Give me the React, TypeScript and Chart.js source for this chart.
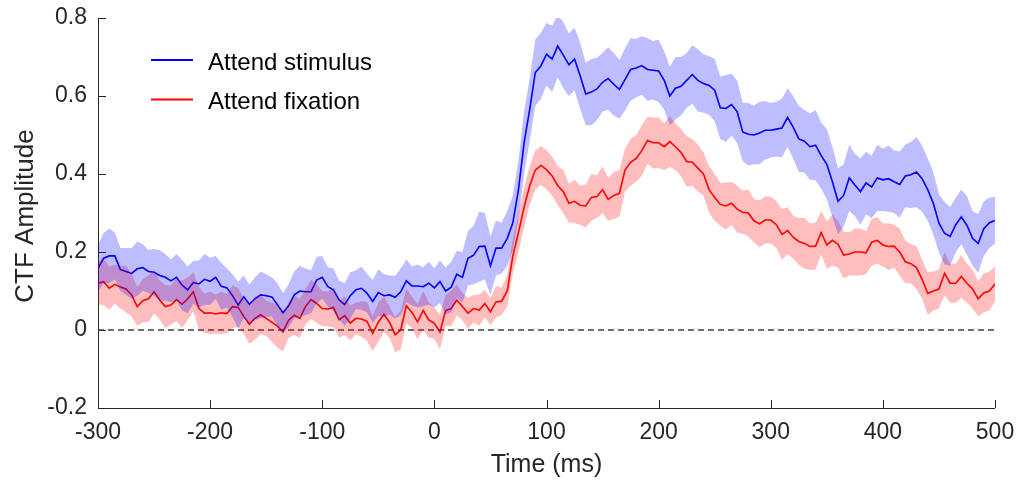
import React, { useEffect, useRef } from "react";
import { Chart, registerables } from "chart.js";

Chart.register(...registerables);

// Time axis: -300 .. 500 ms in 5 ms steps (161 samples)
const T_START = -300;
const T_STEP = 5;

const attendStimulus: number[] = [
  0.158, 0.184, 0.19, 0.19, 0.155, 0.15, 0.145, 0.157, 0.16, 0.15, 0.148, 0.14, 0.135, 0.126, 0.135, 0.115, 0.103, 0.122, 0.118, 0.13, 0.125,
  0.135, 0.112, 0.108, 0.088, 0.064, 0.085, 0.066, 0.08, 0.09, 0.088, 0.085, 0.065, 0.044, 0.062, 0.09, 0.1, 0.098, 0.098, 0.128, 0.135,
  0.111, 0.103, 0.077, 0.065, 0.088, 0.103, 0.107, 0.094, 0.073, 0.096, 0.088, 0.09, 0.084, 0.098, 0.126, 0.113, 0.113, 0.111, 0.12, 0.108,
  0.124, 0.1, 0.11, 0.143, 0.135, 0.184, 0.192, 0.214, 0.215, 0.165, 0.21, 0.21, 0.235, 0.275, 0.36, 0.48, 0.565, 0.66, 0.677, 0.707,
  0.695, 0.728, 0.705, 0.68, 0.695, 0.652, 0.605, 0.61, 0.618, 0.635, 0.645, 0.63, 0.617, 0.642, 0.668, 0.672, 0.678, 0.668, 0.666, 0.664,
  0.64, 0.6, 0.62, 0.625, 0.64, 0.655, 0.64, 0.632, 0.627, 0.615, 0.57, 0.568, 0.578, 0.56, 0.508, 0.502, 0.5, 0.505, 0.512, 0.512,
  0.515, 0.518, 0.545, 0.52, 0.49, 0.484, 0.47, 0.474, 0.447, 0.425, 0.38, 0.33, 0.345, 0.39, 0.372, 0.355, 0.377, 0.367, 0.39, 0.385,
  0.388, 0.38, 0.373, 0.395, 0.398, 0.405, 0.388, 0.36, 0.325, 0.274, 0.248, 0.24, 0.27, 0.29, 0.268, 0.235, 0.222, 0.26, 0.275, 0.281,
];

const attendStimulusErr: number[] = [
  0.06, 0.065, 0.07, 0.06, 0.055, 0.06, 0.065, 0.07, 0.06, 0.055, 0.06, 0.065, 0.06, 0.055, 0.06, 0.065, 0.06, 0.055, 0.06, 0.065, 0.06,
  0.055, 0.06, 0.05, 0.055, 0.06, 0.055, 0.05, 0.055, 0.06, 0.055, 0.05, 0.055, 0.05, 0.055, 0.06, 0.065, 0.06, 0.055, 0.06, 0.055,
  0.05, 0.055, 0.05, 0.055, 0.06, 0.05, 0.055, 0.05, 0.055, 0.06, 0.055, 0.05, 0.055, 0.06, 0.055, 0.05, 0.055, 0.05, 0.055, 0.05,
  0.055, 0.06, 0.065, 0.06, 0.065, 0.07, 0.075, 0.09, 0.085, 0.075, 0.07, 0.065, 0.07, 0.07, 0.075, 0.08, 0.08, 0.085, 0.085, 0.08,
  0.085, 0.08, 0.085, 0.08, 0.08, 0.085, 0.08, 0.085, 0.08, 0.075, 0.08, 0.08, 0.075, 0.08, 0.08, 0.075, 0.075, 0.08, 0.075, 0.08,
  0.075, 0.075, 0.08, 0.075, 0.07, 0.075, 0.08, 0.075, 0.075, 0.08, 0.08, 0.085, 0.08, 0.08, 0.075, 0.08, 0.075, 0.08, 0.075, 0.07,
  0.07, 0.075, 0.075, 0.08, 0.085, 0.08, 0.085, 0.09, 0.085, 0.09, 0.09, 0.085, 0.08, 0.085, 0.08, 0.085, 0.08, 0.08, 0.085, 0.08,
  0.085, 0.08, 0.085, 0.08, 0.085, 0.09, 0.085, 0.08, 0.08, 0.075, 0.08, 0.075, 0.07, 0.07, 0.075, 0.07, 0.075, 0.07, 0.065, 0.06,
];

const attendFixation: number[] = [
  0.12, 0.124, 0.107, 0.117, 0.11, 0.105, 0.09, 0.06, 0.075, 0.08, 0.098, 0.077, 0.06, 0.064, 0.078, 0.066, 0.08, 0.098, 0.055, 0.043, 0.044,
  0.041, 0.044, 0.042, 0.06, 0.058, 0.035, 0.015, 0.03, 0.039, 0.03, 0.02, 0.01, -0.005, 0.025, 0.038, 0.03, 0.06, 0.078, 0.068, 0.055,
  0.054, 0.058, 0.026, 0.037, 0.018, 0.03, 0.028, 0.022, -0.009, 0.02, 0.04, 0.02, -0.012, 0.0, 0.062, 0.045, 0.021, 0.05, 0.026, 0.017,
  -0.005, 0.05, 0.055, 0.077, 0.06, 0.043, 0.055, 0.051, 0.068, 0.047, 0.072, 0.074, 0.1, 0.19, 0.25, 0.315, 0.37, 0.41, 0.422, 0.411,
  0.395, 0.37, 0.355, 0.325, 0.33, 0.32, 0.318, 0.34, 0.342, 0.36, 0.335, 0.345, 0.35, 0.41, 0.43, 0.44, 0.46, 0.486, 0.48, 0.48,
  0.47, 0.483, 0.47, 0.455, 0.432, 0.43, 0.415, 0.4, 0.36, 0.34, 0.322, 0.318, 0.325, 0.31, 0.302, 0.3, 0.28, 0.272, 0.282, 0.282,
  0.27, 0.245, 0.255, 0.238, 0.227, 0.222, 0.214, 0.215, 0.25, 0.218, 0.23, 0.22, 0.192, 0.195, 0.2, 0.2, 0.198, 0.225, 0.23, 0.218,
  0.214, 0.215, 0.2, 0.175, 0.17, 0.16, 0.13, 0.094, 0.1, 0.105, 0.145, 0.12, 0.12, 0.137, 0.12, 0.105, 0.08, 0.095, 0.1, 0.118,
];

const attendFixationErr: number[] = [
  0.055, 0.06, 0.055, 0.05, 0.055, 0.06, 0.055, 0.05, 0.055, 0.06, 0.055, 0.05, 0.055, 0.05, 0.055, 0.06, 0.055, 0.05, 0.055, 0.05, 0.055,
  0.05, 0.055, 0.05, 0.055, 0.05, 0.045, 0.05, 0.055, 0.05, 0.045, 0.05, 0.055, 0.05, 0.045, 0.05, 0.05, 0.045, 0.05, 0.05, 0.045,
  0.045, 0.05, 0.045, 0.05, 0.045, 0.04, 0.045, 0.05, 0.045, 0.05, 0.045, 0.04, 0.045, 0.05, 0.045, 0.04, 0.045, 0.05, 0.045, 0.04,
  0.045, 0.04, 0.045, 0.04, 0.035, 0.04, 0.035, 0.04, 0.035, 0.035, 0.04, 0.035, 0.04, 0.045, 0.05, 0.05, 0.05, 0.05, 0.05, 0.05,
  0.05, 0.05, 0.055, 0.05, 0.055, 0.05, 0.055, 0.06, 0.055, 0.06, 0.055, 0.06, 0.06, 0.055, 0.06, 0.06, 0.065, 0.06, 0.065, 0.065,
  0.06, 0.065, 0.06, 0.06, 0.065, 0.06, 0.06, 0.055, 0.06, 0.06, 0.055, 0.06, 0.055, 0.06, 0.055, 0.06, 0.055, 0.06, 0.06, 0.06,
  0.06, 0.065, 0.06, 0.055, 0.06, 0.065, 0.06, 0.06, 0.055, 0.06, 0.065, 0.06, 0.06, 0.055, 0.06, 0.06, 0.055, 0.06, 0.06, 0.055,
  0.06, 0.055, 0.06, 0.055, 0.05, 0.055, 0.05, 0.055, 0.05, 0.05, 0.055, 0.05, 0.05, 0.055, 0.05, 0.05, 0.045, 0.05, 0.05, 0.045,
];

const xTicks: number[] = [-300, -200, -100, 0, 100, 200, 300, 400, 500];
const yTicks: number[] = [-0.2, 0, 0.2, 0.4, 0.6, 0.8];
const yTickLabels: string[] = ["-0.2", "0", "0.2", "0.4", "0.6", "0.8"];
const legendLabels: string[] = ["Attend stimulus", "Attend fixation"];
const xTitle = "Time (ms)";
const yTitle = "CTF Amplitude";

const FONT = "'Liberation Sans', Arial, Helvetica, sans-serif";
const AXIS_COLOR = "#262626";

function pts(vals: number[]) {
  return vals.map((v, i) => ({ x: T_START + i * T_STEP, y: v }));
}
function band(vals: number[], err: number[], sign: number) {
  return vals.map((v, i) => ({ x: T_START + i * T_STEP, y: v + sign * err[i] }));
}

const decorPlugin = {
  id: "decor",
  beforeDatasetsDraw(chart: any) {
    const { ctx, chartArea, scales } = chart;
    const xs = scales.x;
    const ys = scales.y;
    ctx.save();
    ctx.strokeStyle = AXIS_COLOR;
    ctx.lineWidth = 1;
    ctx.beginPath();
    ctx.moveTo(chartArea.left + 0.5, chartArea.top);
    ctx.lineTo(chartArea.left + 0.5, chartArea.bottom + 0.5);
    ctx.lineTo(chartArea.right, chartArea.bottom + 0.5);
    ctx.stroke();
    ctx.beginPath();
    xTicks.forEach((t) => {
      const px = Math.round(xs.getPixelForValue(t)) + 0.5;
      ctx.moveTo(px, chartArea.bottom);
      ctx.lineTo(px, chartArea.bottom - 8);
    });
    yTicks.forEach((v) => {
      const py = Math.round(ys.getPixelForValue(v)) + 0.5;
      ctx.moveTo(chartArea.left, py);
      ctx.lineTo(chartArea.left + 8, py);
    });
    ctx.stroke();
    ctx.restore();
  },
  afterDraw(chart: any) {
    const { ctx, chartArea } = chart;
    ctx.save();
    ctx.fillStyle = AXIS_COLOR;
    ctx.font = `25px ${FONT}`;
    ctx.textAlign = "center";
    ctx.textBaseline = "alphabetic";
    ctx.fillText(xTitle, (chartArea.left + chartArea.right) / 2, 472);
    ctx.save();
    ctx.translate(33, 216);
    ctx.rotate(-Math.PI / 2);
    ctx.font = `26px ${FONT}`;
    ctx.fillText(yTitle, 0, 0);
    ctx.restore();
    const colors = ["#0000ff", "#ff0000"];
    const lineYs = [60, 99.5];
    ctx.font = `24px ${FONT}`;
    ctx.textAlign = "left";
    ctx.textBaseline = "alphabetic";
    ctx.fillStyle = "#000000";
    legendLabels.forEach((lab, i) => {
      ctx.strokeStyle = colors[i];
      ctx.lineWidth = 2;
      ctx.beginPath();
      ctx.moveTo(151, lineYs[i]);
      ctx.lineTo(193, lineYs[i]);
      ctx.stroke();
      ctx.fillText(lab, 208, lineYs[i] + 9.5);
    });
    ctx.restore();
  },
};

export default function App() {
  const ref = useRef<HTMLCanvasElement | null>(null);
  useEffect(() => {
    if (!ref.current) return;
    const zeroLine = [
      { x: xTicks[0], y: 0 },
      { x: xTicks[xTicks.length - 1], y: 0 },
    ];
    const chart = new Chart(ref.current, {
      type: "line",
      data: {
        datasets: [
          {
            data: band(attendStimulus, attendStimulusErr, 1),
            borderWidth: 0,
            pointRadius: 0,
            backgroundColor: "rgba(0,0,255,0.26)",
            fill: "+1",
          },
          {
            data: band(attendStimulus, attendStimulusErr, -1),
            borderWidth: 0,
            pointRadius: 0,
            fill: false,
          },
          {
            data: band(attendFixation, attendFixationErr, 1),
            borderWidth: 0,
            pointRadius: 0,
            backgroundColor: "rgba(255,0,0,0.26)",
            fill: "+1",
          },
          {
            data: band(attendFixation, attendFixationErr, -1),
            borderWidth: 0,
            pointRadius: 0,
            fill: false,
          },
          {
            data: zeroLine,
            borderColor: "#404040",
            borderWidth: 1.5,
            borderDash: [6, 4],
            pointRadius: 0,
            fill: false,
          },
          {
            label: legendLabels[0],
            data: pts(attendStimulus),
            borderColor: "#0000ff",
            borderWidth: 1.6,
            pointRadius: 0,
            fill: false,
          },
          {
            label: legendLabels[1],
            data: pts(attendFixation),
            borderColor: "#ff0000",
            borderWidth: 1.6,
            pointRadius: 0,
            fill: false,
          },
        ],
      },
      options: {
        animation: false,
        responsive: false,
        devicePixelRatio: 1,
        layout: { padding: { left: 0, right: 24, top: 18, bottom: 0 } },
        plugins: {
          legend: { display: false },
          tooltip: { enabled: false },
        },
        elements: { line: { tension: 0 } },
        scales: {
          x: {
            type: "linear",
            min: -300,
            max: 500,
            afterFit: (s: any) => {
              s.height = 75;
              s.paddingLeft = 0;
              s.paddingRight = 0;
            },
            afterBuildTicks: (s: any) => {
              s.ticks = xTicks.map((v) => ({ value: v }));
            },
            grid: { display: false, drawTicks: false },
            border: { display: false },
            ticks: {
              padding: 11,
              color: AXIS_COLOR,
              font: { family: FONT, size: 23 },
              maxRotation: 0,
              autoSkip: false,
            },
          },
          y: {
            type: "linear",
            min: -0.2,
            max: 0.8,
            afterFit: (s: any) => {
              s.width = 98;
              s.paddingTop = 0;
              s.paddingBottom = 0;
            },
            afterBuildTicks: (s: any) => {
              s.ticks = yTicks.map((v) => ({ value: v }));
            },
            grid: { display: false, drawTicks: false },
            border: { display: false },
            ticks: {
              padding: 11,
              color: AXIS_COLOR,
              font: { family: FONT, size: 23 },
              autoSkip: false,
              callback: (_v: any, i: number) => yTickLabels[i],
            },
          },
        },
      },
      plugins: [decorPlugin],
    } as any);
    return () => chart.destroy();
  }, []);
  return (
    <div style={{ position: "fixed", left: 0, top: 0, width: 1019, height: 483, background: "#fff" }}>
      <canvas ref={ref} width={1019} height={483} style={{ width: 1019, height: 483, display: "block" }} />
    </div>
  );
}
